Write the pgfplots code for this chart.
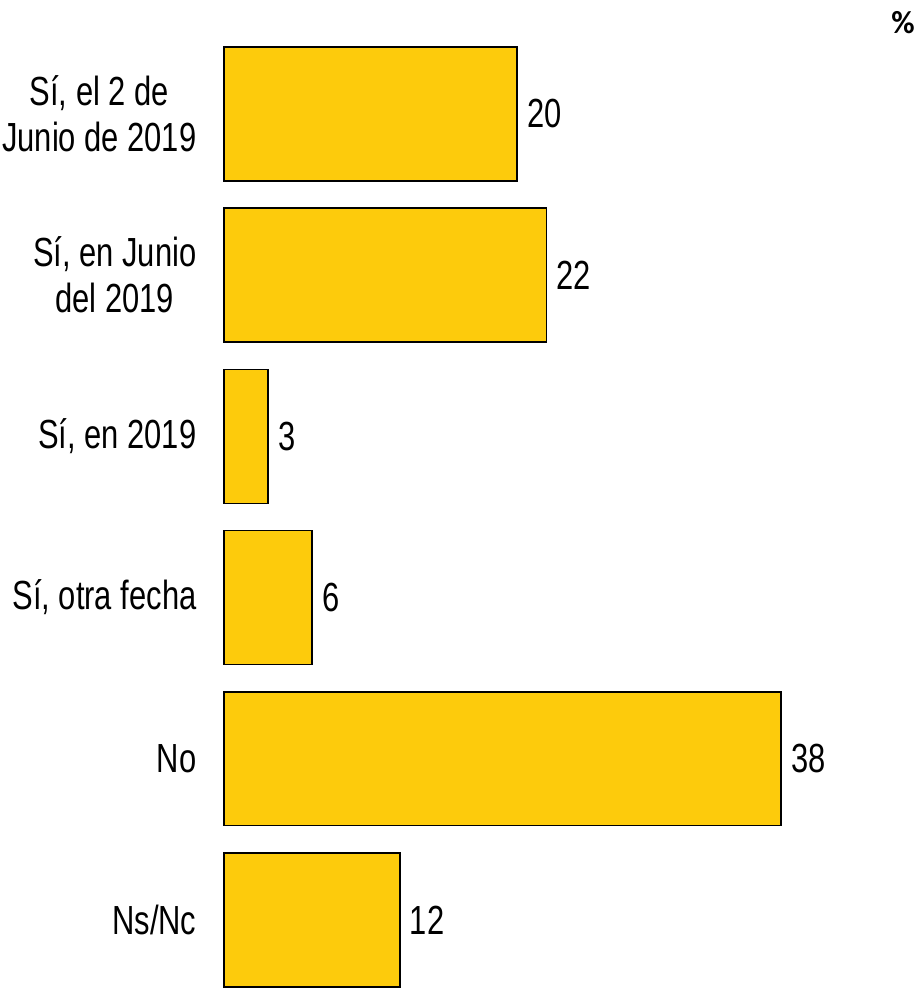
\documentclass[border=0pt]{standalone}
\usepackage{pgfplots}
\pgfplotsset{compat=1.18}
\usepackage{fontspec}
\setmainfont[FakeStretch=0.76]{Liberation Sans}
\newfontfamily\pctfont{Carlito}
\definecolor{barfill}{HTML}{FDCB0C}
\begin{document}
\begin{tikzpicture}
\path[use as bounding box] (0,0) rectangle (687pt,743.25pt);
\begin{axis}[
  at={(168pt,1.3pt)}, anchor=south west,
  scale only axis, width=417.75pt, height=710.9pt,
  xbar, bar width=0.831, bar shift=0pt,
  xmin=0, xmax=38, ymin=-0.45, ymax=5.43, y dir=reverse,
  axis line style={draw=none},
  tick style={draw=none},
  ytick={0,1,2,3,4,5},
  yticklabels={{Sí, el 2 de\\Junio de 2019},{Sí, en Junio\\del 2019},{Sí, en 2019},{Sí, otra fecha},{No},{Ns/Nc}},
  yticklabel style={align=center, font=\fontsize{30.5}{34.5}\selectfont, inner xsep=0pt, xshift=-20.5pt},
  major tick length=0pt,
  xtick=\empty,
  /pgf/number format/assume math mode=true,
  point meta=x,
  nodes near coords,
  nodes near coords style={font=\fontsize{30.5}{34.5}\selectfont, anchor=west, inner xsep=0pt, xshift=7pt},
  clip=false,
]
\addplot[fill=barfill, draw=black, line width=1.1pt] coordinates {
  (20,0) (22,1) (3,2) (6,3) (38,4) (12,5)
};
\end{axis}
\node[font=\pctfont\fontsize{24}{26}\selectfont\bfseries] at (677.25pt,726pt) {\%};
\end{tikzpicture}
\end{document}
